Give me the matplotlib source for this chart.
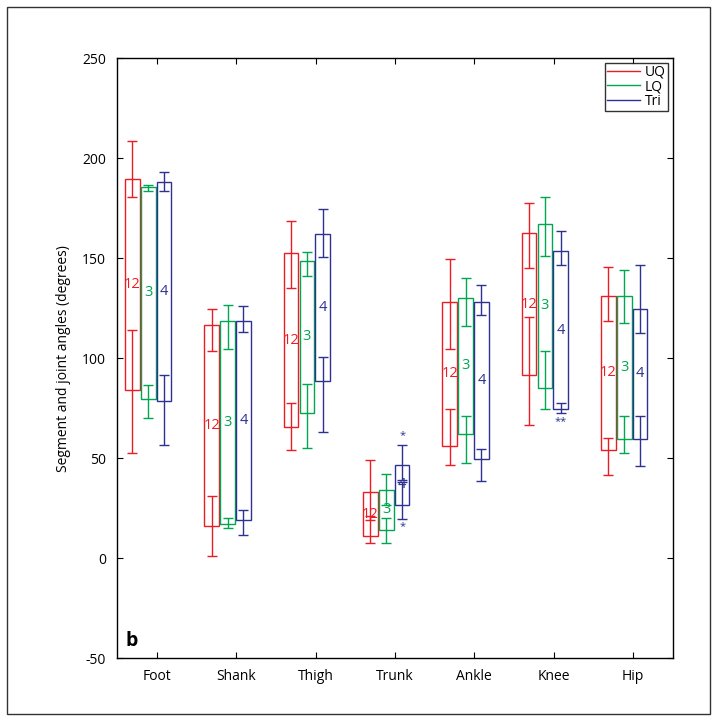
import matplotlib
matplotlib.use("Agg")
import matplotlib.pyplot as plt
import numpy as np
from matplotlib.patches import Rectangle
from matplotlib.lines import Line2D

plt.rcParams['font.family'] = ['Open Sans', 'DejaVu Sans']

categories = ["Foot", "Shank", "Thigh", "Trunk", "Ankle", "Knee", "Hip"]
groups = ["UQ", "LQ", "Tri"]
counts = ["12", "3", "4"]
colors = ["#ec1c24", "#00a651", "#2e3192"]

# Box edges (lower / upper range)
uq_box_lo = [83.9, 16.0, 65.6, 11.1, 55.9, 91.4, 54.3]
uq_box_hi = [189.6, 116.8, 152.4, 33.1, 128.3, 162.4, 131.3]
lq_box_lo = [79.7, 17.0, 72.7, 14.0, 62.2, 85.2, 59.8]
lq_box_hi = [185.7, 118.5, 148.8, 34.3, 130.0, 167.1, 131.2]
tri_box_lo = [78.5, 19.0, 88.5, 26.8, 49.8, 74.7, 59.8]
tri_box_hi = [187.9, 118.8, 161.9, 46.8, 128.3, 153.4, 124.5]

# Error bar ends at the upper edge
uq_hi_top = [208.3, 124.7, 168.7, 49.3, 149.8, 177.4, 145.4]
uq_hi_bot = [180.7, 103.5, 135.1, 19.0, 104.7, 145.1, 118.8]
lq_hi_top = [186.7, 126.7, 153.3, 41.9, 140.1, 180.4, 144.3]
lq_hi_bot = [183.7, 104.5, 141.3, 26.8, 115.9, 151.1, 117.7]
tri_hi_top = [193.2, 126.0, 174.6, 56.8, 136.8, 163.4, 146.8]
tri_hi_bot = [183.7, 113.0, 150.4, 38.9, 121.7, 146.8, 112.8]

# Error bar ends at the lower edge
uq_lo_top = [114.2, 31.1, 77.6, 21.0, 74.7, 120.5, 60.3]
uq_lo_bot = [52.8, 1.2, 53.9, 7.7, 46.4, 66.4, 41.8]
lq_lo_top = [86.4, 20.0, 87.2, 20.3, 71.1, 103.8, 71.1]
lq_lo_bot = [70.2, 15.3, 55.3, 7.7, 47.6, 74.4, 52.8]
tri_lo_top = [91.4, 24.0, 100.8, 38.1, 54.4, 77.7, 71.1]
tri_lo_bot = [56.4, 11.5, 63.1, 19.5, 38.6, 72.7, 46.1]

# significance markers (category, group index, y value, text)
marker_cat = ["Trunk", "Trunk", "Knee"]
marker_grp = [2, 2, 2]
marker_y = [61.4, 15.6, 68.5]
marker_txt = ["*", "*", "**"]

yticks = [-50, 0, 50, 100, 150, 200, 250]

data = [
    (uq_box_lo, uq_box_hi, uq_hi_top, uq_hi_bot, uq_lo_top, uq_lo_bot),
    (lq_box_lo, lq_box_hi, lq_hi_top, lq_hi_bot, lq_lo_top, lq_lo_bot),
    (tri_box_lo, tri_box_hi, tri_hi_top, tri_hi_bot, tri_lo_top, tri_lo_bot),
]

fig = plt.figure(figsize=(7.17, 7.2), dpi=100)
ax = fig.add_axes([0.1636, 0.0857, 0.7746, 0.8337])

xbase = np.arange(1, len(categories) + 1)
offsets = [-0.31, -0.11, 0.09]
bw = 0.185
lw = 1.0

for gi, (blo, bhi, htop, hbot, ltop, lbot) in enumerate(data):
    c = colors[gi]
    x = xbase + offsets[gi]
    blo = np.array(blo); bhi = np.array(bhi)
    ax.bar(x, bhi - blo, bottom=blo, width=bw, fill=False, edgecolor=c, linewidth=lw, zorder=2)
    htop = np.array(htop); hbot = np.array(hbot)
    ltop = np.array(ltop); lbot = np.array(lbot)
    ax.errorbar(x, bhi, yerr=[bhi - hbot, htop - bhi], fmt='none', ecolor=c,
                elinewidth=lw, capsize=3.4, capthick=lw, zorder=3)
    ax.errorbar(x, blo, yerr=[blo - lbot, ltop - blo], fmt='none', ecolor=c,
                elinewidth=lw, capsize=3.4, capthick=lw, zorder=3)
    for xi, lo, hi in zip(x, blo, bhi):
        ax.text(xi, (lo + hi) / 2, counts[gi], color=c, ha='center', va='center',
                fontsize=10.5, zorder=4)

for cat, g, yv, t in zip(marker_cat, marker_grp, marker_y, marker_txt):
    xi = categories.index(cat) + 1 + offsets[g]
    ax.text(xi, yv, t, color=colors[g], ha='center', va='center', fontsize=8)

ax.set_xlim(0.5, 7.5)
ax.set_ylim(-50, 250)
ax.set_xticks(xbase)
ax.set_xticklabels(categories, fontsize=10)
ax.set_yticks(yticks)
ax.set_yticklabels([str(v) for v in yticks], fontsize=10)
ax.tick_params(direction='in', top=True, right=True, length=4, width=0.8, pad=8)
for s in ax.spines.values():
    s.set_linewidth(1.0)
ax.set_ylabel("Segment and joint angles (degrees)", fontsize=10, labelpad=8)

ax.text(0.015, 0.012, "b", transform=ax.transAxes, fontsize=14, fontweight='bold',
        ha='left', va='bottom')

handles = [Line2D([0], [0], color=c, lw=1) for c in colors]
leg = ax.legend(handles, groups, loc='upper right', fontsize=10, frameon=True,
                fancybox=False, handlelength=2.4, handletextpad=0.35,
                borderpad=0.15, labelspacing=-0.05, borderaxespad=0.35)
leg.get_frame().set_edgecolor('black')
leg.get_frame().set_linewidth(1.0)

fig.patches.append(Rectangle((0.0093, 0.009), 0.9814, 0.981, transform=fig.transFigure,
                             fill=False, edgecolor='#333333', linewidth=1.0))

fig.savefig("out.png", dpi=100)
